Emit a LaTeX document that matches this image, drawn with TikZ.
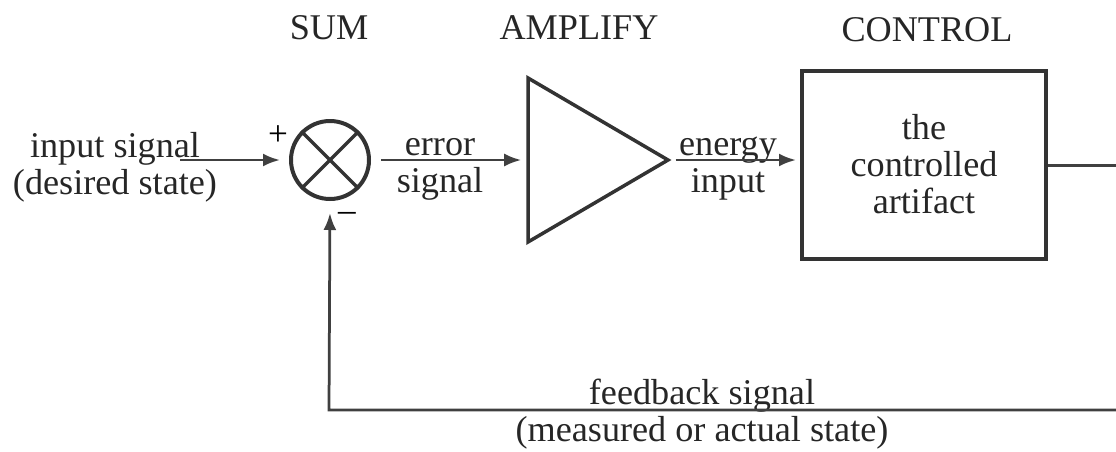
\documentclass[tikz,border=0pt]{standalone}
\usepackage{fontspec}
\setmainfont{Liberation Serif}
\usetikzlibrary{arrows.meta,positioning,shapes.geometric}

\begin{document}
\begin{tikzpicture}[
  lbl/.style={font=\fontsize{20.6}{21}\selectfont, align=center, text=black!85, inner sep=0pt},
  ttl/.style={font=\fontsize{20.6}{21}\selectfont, text=black!85, inner sep=0pt},
  wire/.style={line width=0.6mm, black!75},
  arr/.style={-{Latex[length=3.4mm,width=2.6mm]}, line width=0.55mm, black!75}
]
\useasboundingbox (0,0) rectangle (22.32,9.02);
% Blocks
\node[draw=black!80, line width=0.8mm, circle, minimum size=1.56cm, inner sep=0pt] (sum) at (6.6,5.82) {};
\node[draw=black!80, line width=0.7mm, isosceles triangle, isosceles triangle apex angle=60, isosceles triangle stretches, minimum width=3.28cm, minimum height=2.8cm, inner sep=0pt] (amp) at (11.5,5.82) {};
\node[draw=black!80, line width=0.8mm, minimum width=4.88cm, minimum height=3.76cm, align=center, font=\fontsize{20.6}{21}\selectfont, text=black!85] (ctrl) at (18.48,5.73) {the\\controlled\\artifact};
\draw[line width=0.7mm, black!80] (sum.45) -- (sum.225);
\draw[line width=0.7mm, black!80] (sum.135) -- (sum.315);
% Titles
\node[ttl] (tsum) at (6.58,8.46) {SUM};
\node[ttl] (tamp) at (11.58,8.46) {AMPLIFY};
\node[ttl] (tctrl) at (18.54,8.42) {CONTROL};
% Labels
\node[lbl] (lin) at (2.3,5.68) {input signal\\(desired state)};
\node[lbl] (lerr) at (8.8,5.63) {error\\signal};
\node[lbl] (leng) at (14.56,5.64) {energy\\input};
\node[lbl] (lfb) at (14.04,0.73) {feedback signal\\(measured or actual state)};
\node[font=\fontsize{20}{21}\selectfont, inner sep=0pt] (lplus) at (5.56,6.3) {+};
\node[font=\fontsize{20}{21}\selectfont, inner sep=0pt] (lminus) at (6.94,4.68) {--};
% Connectors
\coordinate (in) at (3.6,5.82);
\coordinate (out) at (22.32,5.72);
\coordinate (back) at (22.32,0.82);
\coordinate (corner) at (6.58,0.82);
\draw[arr, shorten >=0.18cm] (in) -- (sum.west);
\draw[arr, shorten >=0.1cm] (sum.east) ++(0.2,0) -- (amp.west);
\draw[arr, shorten >=0.08cm, shorten <=0.08cm] (amp.east) -- (amp.east -| ctrl.west);
\draw[wire] (ctrl.east |- out) -- (out);
\draw[arr, shorten >=0.24cm] (back) -- (corner) -- (sum.south);
\end{tikzpicture}
\end{document}
